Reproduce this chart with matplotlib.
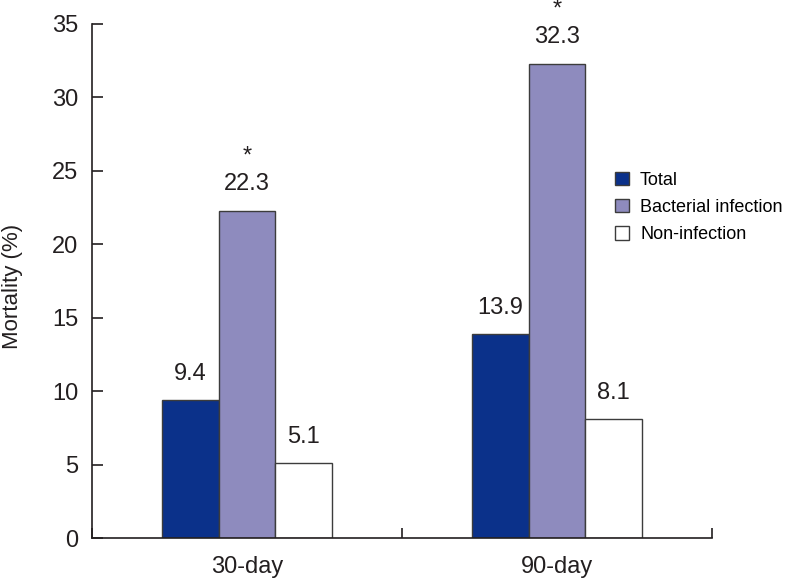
import matplotlib

matplotlib.use("Agg")
import matplotlib.pyplot as plt
import numpy as np

plt.rcParams["font.family"] = ["Liberation Sans Narrow", "Liberation Sans", "DejaVu Sans"]

periods = ["30-day", "90-day"]
series_names = ["Total", "Bacterial infection", "Non-infection"]
total = [9.4, 13.9]
bacterial = [22.3, 32.3]
non_infection = [5.1, 8.1]
significant = [False, True, False]  # asterisk over bacterial infection bars

colors = ["#0b318a", "#8e8bbe", "#ffffff"]
edge = "#3c3c3c"
ink = "#231f20"

fig = plt.figure(figsize=(7.96, 5.81), dpi=100)
ax = fig.add_axes([0.1156, 0.074, 0.779, 0.8847])

centers = np.array([0.5, 1.5])
width = 0.183
offsets = [-width, 0.0, width]
values = [total, bacterial, non_infection]

for name, vals, color, off, star in zip(series_names, values, colors, offsets, significant):
    bars = ax.bar(centers + off, vals, width=width, color=color, edgecolor=edge,
                  linewidth=1.0, label=name)
    for rect, v in zip(bars, vals):
        x = rect.get_x() + rect.get_width() / 2
        ax.annotate(f"{v:.1f}", (x, v), xytext=(0, 11), textcoords="offset points",
                    ha="center", va="bottom", fontsize=17, color=ink)
        if star:
            ax.annotate("*", (x, v), xytext=(0, 31), textcoords="offset points",
                        ha="center", va="bottom", fontsize=17, color=ink)

ax.set_xlim(0, 2)
ax.set_ylim(0, 35)
ax.set_yticks(np.arange(0, 36, 5))
ax.set_xticks([0, 1, 2])
ax.set_xticklabels([])
ax.set_xticks(centers, minor=True)
ax.set_xticklabels(periods, minor=True)

ax.spines["top"].set_visible(False)
ax.spines["right"].set_visible(False)
for s in ("left", "bottom"):
    ax.spines[s].set_color(ink)
    ax.spines[s].set_linewidth(1.2)

ax.tick_params(axis="y", direction="in", length=8, width=1.2, color=ink,
               labelsize=17, labelcolor=ink, pad=10)
ax.tick_params(axis="x", which="major", direction="in", length=7, width=1.2, color=ink)
ax.tick_params(axis="x", which="minor", length=0, labelsize=17, labelcolor=ink, pad=13)

ax.set_ylabel("Mortality (%)", fontsize=16, color=ink)
ax.yaxis.set_label_coords(-0.112, 0.49)

ax.legend(loc="upper left", bbox_to_anchor=(0.843, 0.713), frameon=False, fontsize=13,
          handlelength=0.8, handleheight=0.8, handletextpad=0.6, labelspacing=0.55,
          borderaxespad=0, borderpad=0)

fig.savefig("out.png", dpi=100)
